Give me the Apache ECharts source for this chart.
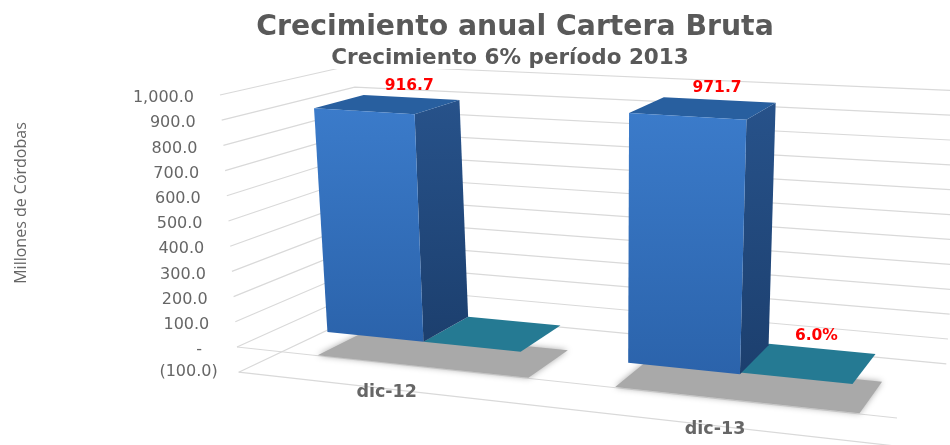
<!DOCTYPE html>
<html>
<head>
<meta charset="utf-8">
<style>
    html, body { margin: 0; padding: 0; background: #fff; }
    #main { width: 950px; height: 445px; }
</style>
<script src="https://cdn.jsdelivr.net/npm/echarts@6/dist/echarts.min.js"></script>
</head>
<body>
<div id="main"></div>
<script>
let categories = ['dic-12', 'dic-13'];
let cartera = [916.7, 971.7];
let crecimiento = [0, 6.0];
let tickValues = [1000, 900, 800, 700, 600, 500, 400, 300, 200, 100, 0, -100];
let tickLabels = ['1,000.0', '900.0', '800.0', '700.0', '600.0', '500.0', '400.0', '300.0', '200.0', '100.0', '-', '(100.0)'];

let font = '"DejaVu Sans", sans-serif';

// 3D box corners on screen: position at value 0, and shift per 1000 units
let frontLeft = {x: 237, dx: -17, y: 347, dy: -252};
let frontRight = {x: 897, dx: 15, y: 418, dy: -280};
let backLeft = {x: 370, dx: -17, y: 287, dy: -222};
let backRight = {x: 948, dx: 17, y: 339, dy: -248};

let barWidth = 0.335;    // share of a category band, blue bar
let growthWidth = 0.325; // same, flat teal bar
let depthFront = 0.33;
let depthBack = 0.72;

// the value goes through the hidden y axis, then u / depth / height are projected
let project = (api, u, w, v) => {
    let y0 = api.coord([0, 0])[1];
    let y1 = api.coord([0, 1000])[1];
    let t = (y0 - api.coord([0, v])[1]) / (y0 - y1);
    let at = (c) => [c.x + c.dx * t, c.y + c.dy * t];
    let lerp = (a, b, k) => [a[0] + (b[0] - a[0]) * k, a[1] + (b[1] - a[1]) * k];
    // bars get a little wider towards the viewer side
    let bent = u - 0.035 * Math.sin(Math.PI * u);
    let f = lerp(at(frontLeft), at(frontRight), bent);
    let b = lerp(at(backLeft), at(backRight), bent);
    return lerp(f, b, w);
};

// category index to 0..1 across the hidden x axis
let bandPos = (api, params, i, offset) => {
    let rect = params.coordSys;
    let px = api.coord([i, 0])[0] + api.size([1, 0])[0] * offset;
    return (px - rect.x) / rect.width;
};

let label = (p, text, style) => ({
    type: 'text',
    style: Object.assign({
        x: p[0],
        y: p[1],
        text: text,
        textAlign: 'center',
        textVerticalAlign: 'middle',
        fontFamily: font
    }, style)
});

let floorQuad = (api, u0, u1, w0, w1, v) => [
    project(api, u0, w0, v),
    project(api, u1, w0, v),
    project(api, u1, w1, v),
    project(api, u0, w1, v)
];

let renderGrid = (params, api) => {
    let v = api.value(1);
    let children = [{
        type: 'polyline',
        shape: {points: [project(api, 0, 0, v), project(api, 0, 1, v), project(api, 1, 1, v)]},
        style: {fill: null, stroke: '#d9d9d9', lineWidth: 1.2}
    }];
    if (v <= 0) {
        children.push({
            type: 'line',
            shape: {
                x1: project(api, 0, 0, v)[0], y1: project(api, 0, 0, v)[1],
                x2: project(api, 1, 0, v)[0], y2: project(api, 1, 0, v)[1]
            },
            style: {stroke: '#d9d9d9', lineWidth: 1.2}
        });
    }
    let p = project(api, 0, 0, v);
    let gap = v < 0 ? 21 : (v === 0 ? 35 : 26);
    children.push(label([p[0] - gap, p[1] + (v < 0 ? 0 : 3)], tickLabels[api.value(2)], {
        textAlign: 'right', fontSize: 16, fill: '#666666'
    }));
    return {type: 'group', children: children};
};

let renderShadow = (params, api) => {
    let i = api.value(0);
    let u0 = bandPos(api, params, i, -barWidth) - 0.02;
    let u1 = bandPos(api, params, i, growthWidth) + 0.012;
    return {
        type: 'polygon',
        shape: {points: floorQuad(api, u0, u1, depthFront, depthBack, -100)},
        style: {fill: '#a9a9a9', shadowBlur: 6, shadowColor: '#a9a9a9'}
    };
};

let renderBar = (params, api) => {
    let i = api.value(0);
    let v = api.value(1);
    let u0 = bandPos(api, params, i, -barWidth);
    let u1 = bandPos(api, params, i, 0);
    let base = floorQuad(api, u0, u1, depthFront, depthBack, 0);
    let top = floorQuad(api, u0, u1, depthFront, depthBack, v);
    let labelAt = project(api, (u0 + u1) / 2, depthBack, v);
    return {
        type: 'group',
        children: [{
            type: 'polygon',
            shape: {points: [top[1], top[2], base[2], base[1]]},
            style: {fill: new echarts.graphic.LinearGradient(0, 0, 0, 1, [
                {offset: 0, color: '#27528a'},
                {offset: 1, color: '#1c3f6e'}
            ])}
        }, {
            type: 'polygon',
            shape: {points: top},
            style: {fill: '#285f9f'}
        }, {
            type: 'polygon',
            shape: {points: [top[0], top[1], base[1], base[0]]},
            style: {fill: new echarts.graphic.LinearGradient(0, 0, 0, 1, [
                {offset: 0, color: '#3b7bca'},
                {offset: 1, color: '#2b63ab'}
            ])}
        }, label([labelAt[0] - 2, labelAt[1] - 12], v.toFixed(1), {
            fontSize: 15.5, fontWeight: 'bold', fill: '#ff0000'
        })]
    };
};

let renderGrowth = (params, api) => {
    let i = api.value(0);
    let v = api.value(1);
    let u0 = bandPos(api, params, i, 0);
    let u1 = bandPos(api, params, i, growthWidth);
    let children = [{
        type: 'polygon',
        shape: {points: floorQuad(api, u0, u1, depthFront, depthBack, v)},
        style: {fill: '#257a93'}
    }];
    if (v > 0) {
        let p = project(api, u0 + (u1 - u0) * 0.45, depthBack, v);
        children.push(label([p[0], p[1] - 12], v.toFixed(1) + '%', {
            fontSize: 15.5, fontWeight: 'bold', fill: '#ff0000'
        }));
    }
    return {type: 'group', children: children};
};

let renderCategory = (params, api) => {
    let i = api.value(0);
    let p = project(api, bandPos(api, params, i, 0), 0, -100);
    return label([p[0], p[1] + 4], categories[i], {
        fontSize: 17.5, fontWeight: 'bold', fill: '#666666'
    });
};

let byCategory = (values) => categories.map((c, i) => [i, values[i]]);

let option = {
    animation: false,
    title: [{
        text: 'Crecimiento anual Cartera Bruta',
        left: 510,
        top: 9,
        textAlign: 'center',
        textStyle: {fontFamily: font, fontSize: 28.3, fontWeight: 'bold', color: '#595959'}
    }, {
        text: 'Crecimiento 6% período 2013',
        left: 510,
        top: 47,
        textAlign: 'center',
        backgroundColor: '#fff',
        padding: 0,
        textStyle: {fontFamily: font, fontSize: 21.5, fontWeight: 'bold', color: '#595959'}
    }],
    graphic: [{
        type: 'text',
        x: 21,
        y: 203,
        rotation: Math.PI / 2,
        style: {
            text: 'Millones de Córdobas',
            textAlign: 'center',
            textVerticalAlign: 'middle',
            fontFamily: '"Open Sans", sans-serif',
            fontSize: 16,
            fill: '#666666'
        }
    }],
    grid: {left: 100, right: 100, top: 95, bottom: 73},
    xAxis: {type: 'category', data: categories, show: false},
    yAxis: {type: 'value', min: -100, max: 1000, interval: 100, show: false},
    series: [
        {type: 'custom', name: 'Eje', renderItem: renderGrid, z: 1, silent: true, clip: false,
            data: tickValues.map((v, i) => [0, v, i])},
        {type: 'custom', name: 'Sombra', renderItem: renderShadow, z: 2, silent: true, clip: false,
            data: byCategory(cartera)},
        {type: 'custom', name: 'Crecimiento', renderItem: renderGrowth, z: 3, clip: false,
            data: byCategory(crecimiento)},
        {type: 'custom', name: 'Cartera Bruta', renderItem: renderBar, z: 4, clip: false,
            data: byCategory(cartera)},
        {type: 'custom', name: 'Categorias', renderItem: renderCategory, z: 5, silent: true, clip: false,
            data: byCategory(cartera)}
    ]
};

let chart = echarts.init(document.getElementById('main'));
chart.setOption(option);
</script>
</body>
</html>
